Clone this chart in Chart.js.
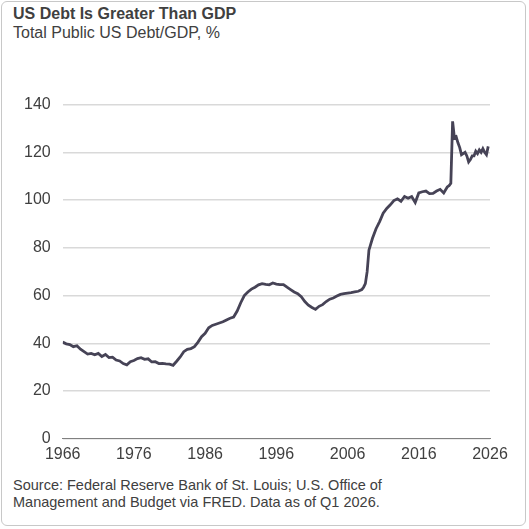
<!DOCTYPE html>
<html><head><meta charset="utf-8">
<script src="https://cdn.jsdelivr.net/npm/chart.js@4"></script>
<style>
body{margin:0;background:#fff;font-family:"Liberation Sans",Arial,sans-serif;}
#card{position:absolute;left:1px;top:1px;width:525px;height:525px;border:1px solid #c8c8c8;border-radius:6px;box-sizing:border-box;}
#t{position:absolute;left:13px;top:5px;font-size:16px;font-weight:bold;color:#404040;}
#s{position:absolute;left:13px;top:24px;font-size:16px;color:#404040;}
#src{position:absolute;left:13px;top:477px;font-size:14.5px;color:#404040;line-height:17px;}
#wrap{position:absolute;left:0;top:83px;width:520px;height:387px;}
</style></head><body>
<div id="card"></div>
<div id="t">US Debt Is Greater Than GDP</div>
<div id="s">Total Public US Debt/GDP, %</div>
<div id="wrap"><canvas id="c"></canvas></div>
<div id="src">Source: Federal Reserve Bank of St. Louis; U.S. Office of<br>Management and Budget via FRED. Data as of Q1 2026.</div>
<script>
const years=[1966,1966.5,1967,1967.5,1968,1968.5,1969,1969.5,1970,1970.5,1971,1971.5,1972,1972.5,1973,1973.5,1974,1974.5,1975,1975.5,1976,1976.5,1977,1977.5,1978,1978.5,1979,1979.5,1980,1980.5,1981,1981.5,1982,1982.5,1983,1983.5,1984,1984.5,1985,1985.5,1986,1986.5,1987,1987.5,1988,1988.5,1989,1989.5,1990,1990.5,1991,1991.5,1992,1992.5,1993,1993.5,1994,1994.5,1995,1995.5,1996,1996.5,1997,1997.5,1998,1998.5,1999,1999.5,2000,2000.5,2001,2001.5,2002,2002.5,2003,2003.5,2004,2004.5,2005,2005.5,2006,2006.5,2007,2007.5,2008,2008.25,2008.5,2008.75,2009,2009.5,2010,2010.5,2011,2011.5,2012,2012.5,2013,2013.5,2014,2014.5,2015,2015.5,2016,2016.5,2017,2017.5,2018,2018.5,2019,2019.5,2020,2020.25,2020.5,2020.75,2021,2021.25,2021.5,2021.75,2022,2022.5,2022.75,2023,2023.25,2023.5,2023.75,2024,2024.25,2024.5,2024.75,2025,2025.25,2025.5,2025.75];
const debtPct=[40.5,39.8,39.5,38.6,39,37.5,36.5,35.5,35.8,35.2,35.8,34.5,35.3,34,34.2,33,32.6,31.5,31,32.3,32.8,33.6,34,33.3,33.5,32.2,32.3,31.5,31.6,31.4,31.3,30.8,32.5,34.3,36.5,37.5,37.8,38.6,40.5,42.8,44.2,46.5,47.5,48,48.5,49,49.8,50.5,51,53.5,57,60,61.5,62.7,63.5,64.5,65,64.7,64.5,65.3,64.8,64.6,64.6,63.5,62.5,61.5,60.8,59.5,57.5,56,55,54.2,55.5,56.2,57.5,58.5,59,59.8,60.5,60.8,61,61.2,61.5,61.8,62.5,63.5,65,70,79,84,88,91,94.5,96.5,98,99.8,100.5,99.5,101.5,100.8,101.5,99,103,103.5,103.8,102.7,102.8,103.8,104.5,103,105.5,106,107,133,126,126.5,124,122,119,120,118.5,116,117,118.5,118.5,120.5,119.5,121,120,121.5,120,119,122.5,123,123];
const pts=years.map((x,i)=>({x,y:debtPct[i]}));
const xTicks=[1966,1976,1986,1996,2006,2016,2026];
const yTicks=[0,20,40,60,80,100,120,140];
new Chart(document.getElementById('c'),{type:'line',
data:{datasets:[{data:pts,borderColor:'#464356',borderWidth:2.8,pointRadius:0,tension:0}]},
options:{responsive:true,maintainAspectRatio:false,animation:false,
layout:{padding:{left:12,right:30,top:6,bottom:0}},
plugins:{legend:{display:false},tooltip:{enabled:false}},
scales:{
x:{type:'linear',min:1966,max:2026,afterBuildTicks:a=>{a.ticks=xTicks.map(v=>({value:v}));},
 grid:{display:false,drawTicks:false},border:{color:'#808080',width:1},
 ticks:{color:'#404040',font:{family:'Liberation Sans',size:16},padding:6,maxRotation:0,callback:v=>String(v)}},
y:{min:0,max:140,afterBuildTicks:a=>{a.ticks=yTicks.map(v=>({value:v}));},
 grid:{color:'#d9d9d9',lineWidth:1.5,drawTicks:false},border:{display:false},
 ticks:{color:'#404040',font:{family:'Liberation Sans',size:16},padding:12}}
}}});
</script></body></html>
